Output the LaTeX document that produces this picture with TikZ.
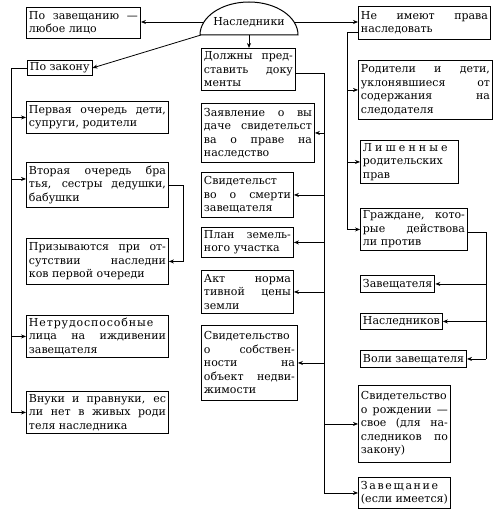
\documentclass[tikz,border=0pt]{standalone}
\usepackage{fontspec}
\setmainfont{DejaVu Serif}
\usetikzlibrary{arrows.meta}
\newcommand\fs{\fontsize{11}{13.5}\selectfont}
\begin{document}
\hyphenpenalty=10000 \exhyphenpenalty=10000 \tolerance=10000 \hbadness=10000
\begin{tikzpicture}[x=1pt,y=-1pt,
  bx/.style={draw, line width=0.9pt, anchor=north west, inner xsep=2.5pt, inner ysep=1pt, align=justify, font=\fs},
  sbx/.style={draw, line width=0.9pt, anchor=north west, inner xsep=2.5pt, inner ysep=1pt, font=\fs},
  ln/.style={line width=0.8pt},
  arr/.style={ln, -{Stealth[length=5pt,width=4pt]}}]
\fill[white] (0,0) rectangle (494,518);
\useasboundingbox (0,0) rectangle (494,518);

% top dome
\draw[line width=1pt] (200,35) arc[start angle=180,end angle=0,x radius=49pt,y radius=33pt] -- cycle;
\node[font=\fs, inner sep=0pt] (heirs) at (249,22) {Наследники};
\coordinate (hL) at (204,22);
\coordinate (hR) at (294,22);
\coordinate (hF) at (201,35);
\coordinate (hB) at (249,35);

% left column
\node[bx, text width=109pt, minimum height=31pt] (zav) at (26,7) {По завещанию —\linebreak любое лицо};
\node[sbx, minimum height=15pt] (zakon) at (27,60) {По закону};
\node[bx, text width=137pt, minimum height=32pt] (perv) at (26,101) {Первая очередь дети,\linebreak супруги, родители};
\node[bx, text width=137pt, minimum height=45pt] (vtor) at (26,162) {Вторая очередь бра\linebreak тья, сестры дедушки,\linebreak бабушки};
\node[bx, text width=137pt, minimum height=46pt] (priz) at (26,238) {Призываются при от-\linebreak сутствии наследни\linebreak ков первой очереди};
\node[bx, text width=137pt, minimum height=42pt] (netr) at (26,315) {{\addfontfeature{LetterSpace=8}Нетрудоспособные}\linebreak лица на иждивении\linebreak завещателя};
\node[bx, text width=137pt, minimum height=42pt] (vnuki) at (26,391) {Внуки и правнуки, ес\linebreak ли нет в живых роди\linebreak теля наследника};

% center column
\node[bx, text width=89pt, minimum height=42pt] (dolzh) at (201,48) {Должны пред-\linebreak ставить доку\linebreak менты};
\node[bx, text width=108pt, minimum height=59pt] (zayav) at (201,103) {Заявление о вы\linebreak даче свидетельст\linebreak ва о праве на\linebreak наследство};
\node[bx, text width=87pt, minimum height=45pt] (svsm) at (201,172) {Свидетельст\linebreak во о смерти\linebreak завещателя};
\node[bx, text width=87pt, minimum height=30pt] (plan) at (201,227) {План земель-\linebreak ного участка};
\node[bx, text width=87pt, minimum height=43pt] (akt) at (201,270) {Акт норма\linebreak тивной цены\linebreak земли};
\node[bx, text width=91pt, minimum height=75pt] (svsob) at (201,325) {Свидетельство\linebreak о собствен-\linebreak ности на\linebreak объект недви-\linebreak жимости};

% right column
\node[bx, text width=127pt, minimum height=33pt] (neim) at (358,6) {Не имеют права\linebreak наследовать};
\node[bx, text width=129pt, minimum height=59pt] (rodit) at (358,60) {Родители и дети,\linebreak уклонявшиеся от\linebreak содержания на\linebreak следодателя};
\node[bx, text width=93pt, minimum height=43pt] (lish) at (360,140) {{\addfontfeature{LetterSpace=28}Лишенные}\linebreak родительских\linebreak прав};
\node[bx, text width=102pt, minimum height=42pt] (grazh) at (360,208) {Граждане, кото-\linebreak рые действова\linebreak ли против};
\node[sbx, minimum height=17pt] (zavt) at (360,275) {Завещателя};
\node[sbx, minimum height=16pt] (nasl) at (360,313) {Наследников};
\node[sbx, minimum height=17pt] (voli) at (360,350) {Воли завещателя};
\node[bx, text width=87pt, minimum height=77pt] (svrozh) at (358,385) {Свидетельство\linebreak о рождении —\linebreak свое (для на-\linebreak следников по\linebreak закону)};
\node[bx, text width=87pt, minimum height=31pt] (zaveshch) at (358,477) {{\addfontfeature{LetterSpace=15}Завещание}\linebreak (если имеется)};

% connectors from the dome
\draw[arr] (hL) -- (hL -| zav.east);
\draw[arr] (hF) -- (zakon.east);
\draw[arr] (hB) -- (hB |- dolzh.north);
\draw[arr] (hR) -- (hR -| neim.west);

% left trunk
\coordinate (lx) at (11,0);
\coordinate (vtw) at ([yshift=6pt]vtor.west);
\draw[ln] (zakon.west) -| (lx |- vnuki.west);
\draw[arr] (lx |- perv.west) -- (perv.west);
\draw[arr] (lx |- vtw) -- (vtw);
\draw[arr] (lx |- netr.west) -- (netr.west);
\draw[arr] (lx |- vnuki.west) -- (vnuki.west);
\coordinate (vx) at (183,0);
\draw[arr] (vtor.east) -- (vx |- vtor.east) -- (vx |- priz.east) -- (priz.east);

% center trunk
\coordinate (cx) at (324,0);
\coordinate (dle) at ([yshift=-4pt]dolzh.east);
\draw[ln] (dle) -| (cx |- zaveshch.west);
\foreach \n in {zayav,svsm,plan,akt,svsob}
  \draw[arr] (cx |- \n.east) -- (\n.east);
\foreach \n in {svrozh,zaveshch}
  \draw[arr] (cx |- \n.west) -- (\n.west);

% right trunk
\coordinate (rx) at (347,0);
\coordinate (nmw) at ([yshift=-9.5pt]neim.west);
\draw[ln] (nmw) -| (rx |- grazh.west);
\foreach \n in {rodit,lish,grazh}
  \draw[arr] (rx |- \n.west) -- (\n.west);
\coordinate (rx2) at (486,0);
\coordinate (gre) at ([yshift=-3pt]grazh.east);
\draw[ln] (gre) -| (rx2 |- voli.east);
\foreach \n in {zavt,nasl,voli}
  \draw[arr] (rx2 |- \n.east) -- (\n.east);
\end{tikzpicture}
\end{document}
